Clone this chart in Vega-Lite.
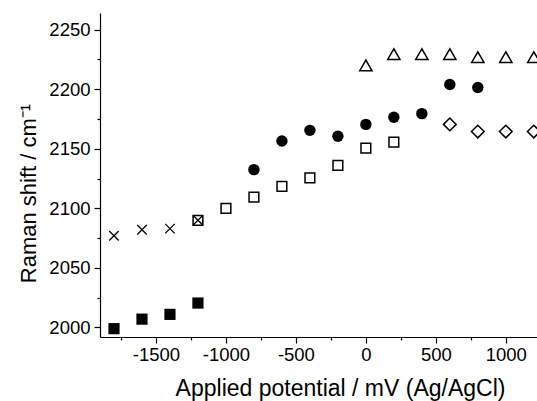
{
  "$schema": "https://vega.github.io/schema/vega-lite/v6.json",
  "width": 437,
  "height": 324,
  "autosize": {"type": "none"},
  "padding": {"left": 100, "top": 13, "right": 0, "bottom": 64},
  "background": "white",
  "config": {
    "view": {"stroke": null},
    "font": "Liberation Sans",
    "axis": {
      "domainColor": "black",
      "domainWidth": 1.2,
      "tickColor": "black",
      "tickWidth": 1.2,
      "grid": false,
      "labelColor": "black",
      "titleColor": "black",
      "labelFont": "Liberation Sans",
      "titleFont": "Liberation Sans",
      "labelFontSize": 18.5,
      "titleFontSize": 22,
      "titleFontWeight": "normal"
    }
  },
  "data": {
    "values": [
      {"s": "fsq", "x": -1800, "y": 1999},
      {"s": "fsq", "x": -1600, "y": 2007},
      {"s": "fsq", "x": -1400, "y": 2011},
      {"s": "fsq", "x": -1200, "y": 2020.5},
      {"s": "cross", "x": -1800, "y": 2077},
      {"s": "cross", "x": -1600, "y": 2082},
      {"s": "cross", "x": -1400, "y": 2083},
      {"s": "cross", "x": -1200, "y": 2090},
      {"s": "osq", "x": -1200, "y": 2090},
      {"s": "osq", "x": -1000, "y": 2100},
      {"s": "osq", "x": -800, "y": 2109.5},
      {"s": "osq", "x": -600, "y": 2118.5},
      {"s": "osq", "x": -400, "y": 2125.5},
      {"s": "osq", "x": -200, "y": 2136},
      {"s": "osq", "x": 0, "y": 2150.5},
      {"s": "osq", "x": 200, "y": 2155.5},
      {"s": "circ", "x": -800, "y": 2132.5},
      {"s": "circ", "x": -600, "y": 2156.5},
      {"s": "circ", "x": -400, "y": 2165.5},
      {"s": "circ", "x": -200, "y": 2160.5},
      {"s": "circ", "x": 0, "y": 2170.5},
      {"s": "circ", "x": 200, "y": 2176.5},
      {"s": "circ", "x": 400, "y": 2179.5},
      {"s": "circ", "x": 600, "y": 2204},
      {"s": "circ", "x": 800, "y": 2201.5},
      {"s": "tri", "x": 0, "y": 2220},
      {"s": "tri", "x": 200, "y": 2229.5},
      {"s": "tri", "x": 400, "y": 2229.5},
      {"s": "tri", "x": 600, "y": 2229.5},
      {"s": "tri", "x": 800, "y": 2227},
      {"s": "tri", "x": 1000, "y": 2227},
      {"s": "tri", "x": 1200, "y": 2227},
      {"s": "dia", "x": 600, "y": 2170.5},
      {"s": "dia", "x": 800, "y": 2164.5},
      {"s": "dia", "x": 1000, "y": 2164.5},
      {"s": "dia", "x": 1200, "y": 2164.5}
    ]
  },
  "encoding": {
    "x": {
      "field": "x", "type": "quantitative",
      "scale": {"domain": [-1900, 1223], "nice": false, "zero": false},
      "axis": {
        "title": "Applied potential / mV (Ag/AgCl)",
        "titleFontSize": 23,
        "titleX": 240,
        "titleY": 58,
        "titleAlign": "center",
        "titleBaseline": "alphabetic",
        "values": [-1750, -1500, -1250, -1000, -750, -500, -250, 0, 250, 500, 750, 1000],
        "labelExpr": "datum.value % 500 === 0 ? '' + datum.value : ''",
        "tickSize": {"expr": "datum.value % 500 === 0 ? 6 : 3"},
        "labelPadding": 2
      }
    },
    "y": {
      "field": "y", "type": "quantitative",
      "scale": {"domain": [1992, 2264], "nice": false, "zero": false},
      "axis": {
        "title": "Raman shift / cm⁻¹",
        "titleX": -65,
        "titleY": 180,
        "titleAngle": 270,
        "titleAlign": "center",
        "titleBaseline": "alphabetic",
        "values": [2000, 2025, 2050, 2075, 2100, 2125, 2150, 2175, 2200, 2225, 2250],
        "labelExpr": "datum.value % 50 === 0 ? '' + datum.value : ''",
        "tickSize": {"expr": "datum.value % 50 === 0 ? 6 : 3"},
        "labelPadding": 4
      }
    }
  },
  "layer": [
    {
      "transform": [{"filter": "datum.s === 'fsq'"}],
      "mark": {"type": "point", "shape": "square", "filled": true, "color": "black", "size": 125, "opacity": 1, "clip": false}
    },
    {
      "transform": [{"filter": "datum.s === 'cross'"}],
      "mark": {"type": "point", "shape": "M-1,-1L1,1M-1,1L1,-1", "filled": false, "stroke": "black", "strokeWidth": 1.3, "size": 90, "opacity": 1, "clip": false}
    },
    {
      "transform": [{"filter": "datum.s === 'osq'"}],
      "mark": {"type": "point", "shape": "square", "filled": false, "stroke": "black", "strokeWidth": 1.5, "size": 95, "opacity": 1, "clip": false}
    },
    {
      "transform": [{"filter": "datum.s === 'circ'"}],
      "mark": {"type": "point", "shape": "circle", "filled": true, "color": "black", "size": 130, "opacity": 1, "clip": false}
    },
    {
      "transform": [{"filter": "datum.s === 'tri'"}],
      "mark": {"type": "point", "shape": "triangle-up", "filled": false, "stroke": "black", "strokeWidth": 1.5, "size": 150, "opacity": 1, "clip": false}
    },
    {
      "transform": [{"filter": "datum.s === 'dia'"}],
      "mark": {"type": "point", "shape": "diamond", "filled": false, "stroke": "black", "strokeWidth": 1.5, "size": 160, "opacity": 1, "clip": false}
    }
  ]
}
